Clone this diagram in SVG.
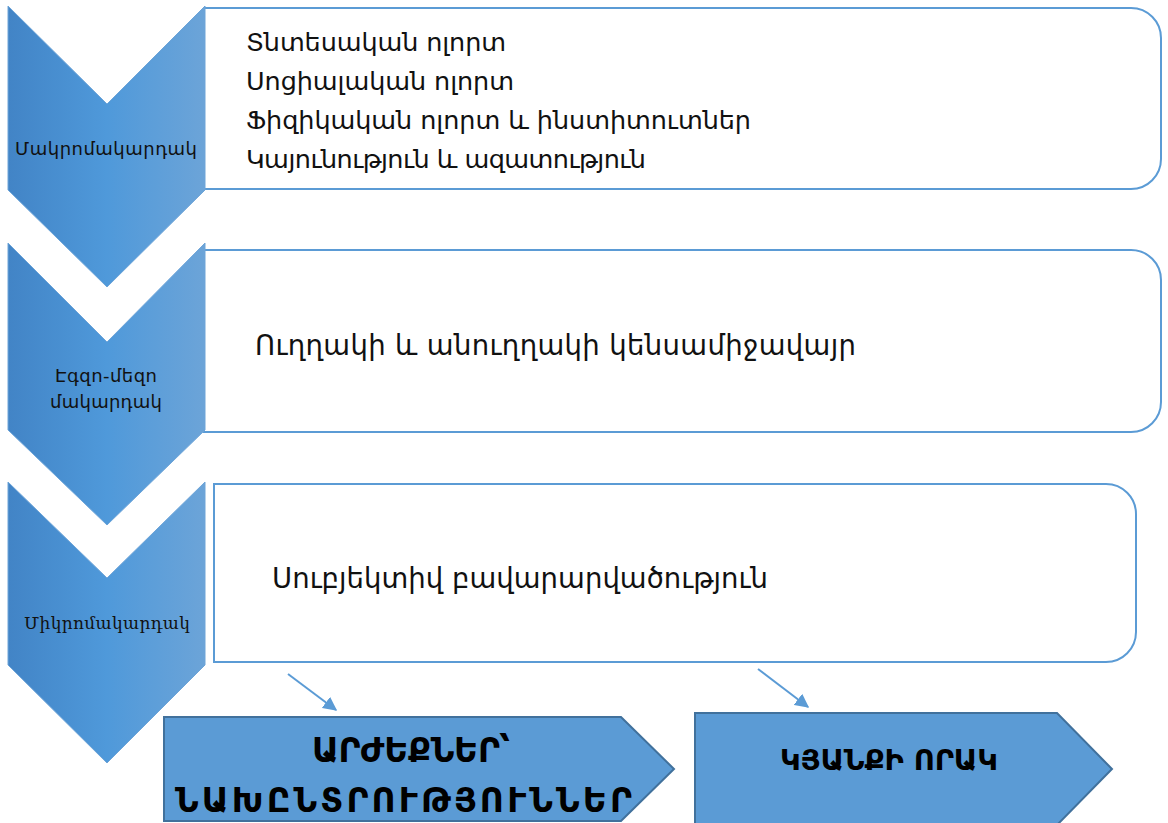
<svg xmlns="http://www.w3.org/2000/svg" width="1168" height="823" viewBox="0 0 1168 823">
<style>
.box{fill:#ffffff;stroke:#5b9bd5;stroke-width:2}
.chev{fill:url(#g);stroke:#6fa5d8;stroke-width:1}
.pent{fill:#5b9bd5;stroke:#41719c;stroke-width:2}
.lbl{font-family:"DejaVu Sans",sans-serif;font-size:18px;fill:#111}
.lbls{font-family:"DejaVu Serif",serif;font-size:17px;fill:#111}
.txt{font-family:"DejaVu Sans",sans-serif;font-size:25.5px;fill:#111}
.big{font-family:"DejaVu Sans",sans-serif;font-size:27.5px;fill:#111}
.cap{font-family:"DejaVu Sans",sans-serif;font-size:33px;font-weight:bold;fill:#000}
.cap2{font-family:"DejaVu Sans",sans-serif;font-size:29px;font-weight:bold;fill:#000}
.conn{stroke:#5b9bd5;stroke-width:2;fill:none}
</style>
<defs>
<linearGradient id="g" x1="0" y1="0" x2="1" y2="0">
<stop offset="0" stop-color="#4284c6"/>
<stop offset="0.5" stop-color="#4f99da"/>
<stop offset="1" stop-color="#6ca4d8"/>
</linearGradient>
<marker id="ah" viewBox="0 0 10 10" refX="9" refY="5" markerWidth="7" markerHeight="7" orient="auto">
<path d="M0,0 L10,5 L0,10 z" fill="#5b9bd5"/>
</marker>
</defs>
<g id="box1"><path class="box" d="M204,8 H1131 A30,30 0 0 1 1161,38 V159 A30,30 0 0 1 1131,189 H204 Z"/>
<text class="txt" x="246" y="51" textLength="260">Տնտեսական ոլորտ</text>
<text class="txt" x="246" y="90" textLength="268">Սոցիալական ոլորտ</text>
<text class="txt" x="246" y="129" textLength="505">Ֆիզիկական ոլորտ և ինստիտուտներ</text>
<text class="txt" x="246" y="168" textLength="400">Կայունություն և ազատություն</text>
</g>
<g id="box2"><path class="box" d="M204,250 H1131 A30,30 0 0 1 1161,280 V402 A30,30 0 0 1 1131,432 H204 Z"/>
<text class="big" x="255" y="355" textLength="601">Ուղղակի և անուղղակի կենսամիջավայր</text>
</g>
<g id="box3"><path class="box" d="M214,484 H1106 A30,30 0 0 1 1136,514 V632 A30,30 0 0 1 1106,662 H214 Z"/>
<text class="big" x="272" y="588" textLength="496">Սուբյեկտիվ բավարարվածություն</text>
</g>
<g id="chev1"><path class="chev" d="M8,6 L107,104 L205,6 V190 L107,287 L8,190 Z"/>
<text class="lbl" x="15" y="155" textLength="182">Մակրոմակարդակ</text></g>
<g id="chev2"><path class="chev" d="M8,243 L107,342 L205,243 V430 L107,525 L8,430 Z"/>
<text class="lbl" x="55" y="382" textLength="102">Էգզո-մեզո</text>
<text class="lbl" x="50" y="408" textLength="112">մակարդակ</text></g>
<g id="chev3"><path class="chev" d="M8,482 L107,578 L205,482 V665 L107,763 L8,665 Z"/>
<text class="lbls" x="24" y="629" textLength="166">Միկրոմակարդակ</text></g>
<g id="pent1"><path class="pent" d="M164,717 H621 L674,769 L621,821 H164 Z"/>
<text class="cap" x="312" y="762" textLength="198">ԱՐԺԵՔՆԵՐ՝</text>
<text class="cap" x="175" y="812" textLength="457">ՆԱԽԸՆՏՐՈՒԹՅՈՒՆՆԵՐ</text></g>
<g id="pent2"><path class="pent" d="M695,713 H1057 L1112,769 L1057,825 H695 Z"/>
<text class="cap2" x="780" y="770" textLength="218">ԿՅԱՆՔԻ ՈՐԱԿ</text></g>
<g id="connectors">
<line class="conn" x1="288" y1="674" x2="336" y2="710" marker-end="url(#ah)"/>
<line class="conn" x1="758" y1="669" x2="808" y2="707" marker-end="url(#ah)"/>
</g>
</svg>
